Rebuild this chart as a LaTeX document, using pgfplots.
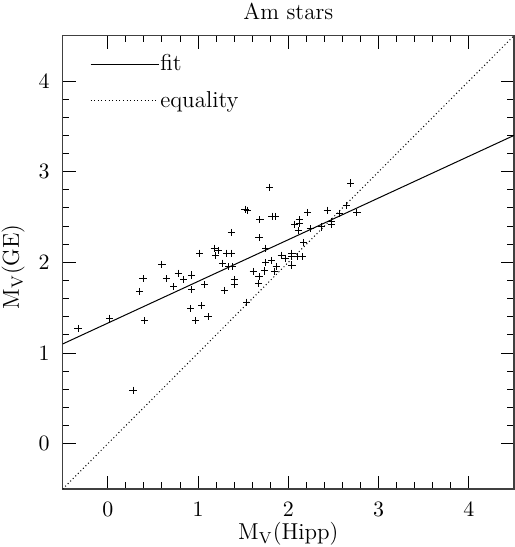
\documentclass[border=0pt]{standalone}
\usepackage{pgfplots}
\pgfplotsset{compat=1.18}
\begin{document}
\begin{tikzpicture}
\begin{axis}[
  name=ax,
  scale only axis,
  width=225.7pt, height=226.7pt,
  xmin=-0.5, xmax=4.5, ymin=-0.5, ymax=4.5,
  xtick={0,1,2,3,4}, ytick={0,1,2,3,4},
  minor tick num=4,
  tick align=inside,
  major tick length=6.5pt, minor tick length=3.3pt,
  every tick/.style={black, line width=0.5pt},
  axis line style={line width=0.7pt, black!75},
  tick label style={font=\fontsize{11}{13}\selectfont},
  xticklabel style={yshift=-3pt},
  yticklabel style={xshift=-3pt},
  label style={font=\fontsize{11.5}{13}\selectfont},
  xlabel={M$_\mathrm{V}$(Hipp)},
  ylabel={M$_\mathrm{V}$(GE)},
  xlabel style={at={(axis description cs:0.5,-0.112)}, anchor=base},
  ylabel style={at={(axis description cs:-0.097,0.49)}, anchor=base, rotate=0},
  title={Am stars},
  every axis title shift=0pt,
  title style={at={(axis description cs:0.5,1.035)}, anchor=base, yshift=0pt, font=\fontsize{11.5}{13}\selectfont},
  legend style={draw=none, fill=none, at={(axis description cs:0.06,0.962)}, anchor=north west,
    font=\fontsize{11.5}{13}\selectfont, inner sep=0pt, row sep=7.5pt,
    nodes={inner sep=0.6pt}},
  legend cell align=left,
  legend image code/.code={\draw[#1] (0pt,0pt) -- (34pt,0pt);},
]
\addplot[black, line width=0.5pt] coordinates {(-0.5,1.10) (4.5,3.40)};
\addlegendentry{fit}
\addplot[black, line width=0.5pt, dash pattern=on 0.5pt off 1.3pt] coordinates {(-0.5,-0.5) (4.5,4.5)};
\addlegendentry{equality}
\addplot[only marks, mark=+, mark size=1.8pt, black, line width=0.5pt, forget plot] coordinates {
(-0.33,1.27) (0.02,1.385) (0.28,0.59) (0.35,1.68) (0.39,1.82) (0.405,1.355)
(0.60,1.98) (0.65,1.82) (0.73,1.73) (0.78,1.88) (0.84,1.81) (0.93,1.86)
(0.93,1.70) (0.92,1.49) (0.97,1.355) (1.04,1.52) (1.075,1.755) (1.02,2.10)
(1.11,1.40) (1.18,2.155) (1.195,2.075) (1.23,2.13) (1.27,1.99) (1.29,1.69)
(1.32,2.10) (1.365,2.10) (1.34,1.955) (1.38,1.955) (1.37,2.33) (1.40,1.81)
(1.40,1.755) (1.52,2.585) (1.545,2.575) (1.54,1.56) (1.61,1.90) (1.675,1.84)
(1.67,1.77) (1.685,2.47) (1.675,2.27) (1.75,2.155) (1.74,1.905) (1.75,2.00)
(1.79,2.83) (1.81,2.02) (1.82,2.51) (1.86,2.505) (1.85,1.90) (1.865,1.955)
(1.92,2.08) (1.97,2.045) (2.04,2.10) (2.04,2.065) (2.04,1.97) (2.10,2.065)
(2.16,2.065) (2.17,2.22) (2.07,2.42) (2.12,2.47) (2.12,2.43) (2.11,2.35)
(2.215,2.55) (2.245,2.37) (2.37,2.39) (2.43,2.575) (2.48,2.45) (2.48,2.42)
(2.57,2.54) (2.64,2.63) (2.69,2.875) (2.76,2.55)
};
\end{axis}
\pgfresetboundingbox
\path ([xshift=-31.35pt,yshift=-29pt]ax.south west) rectangle ([xshift=0.5pt,yshift=17.85pt]ax.north east);
\end{tikzpicture}
\end{document}
